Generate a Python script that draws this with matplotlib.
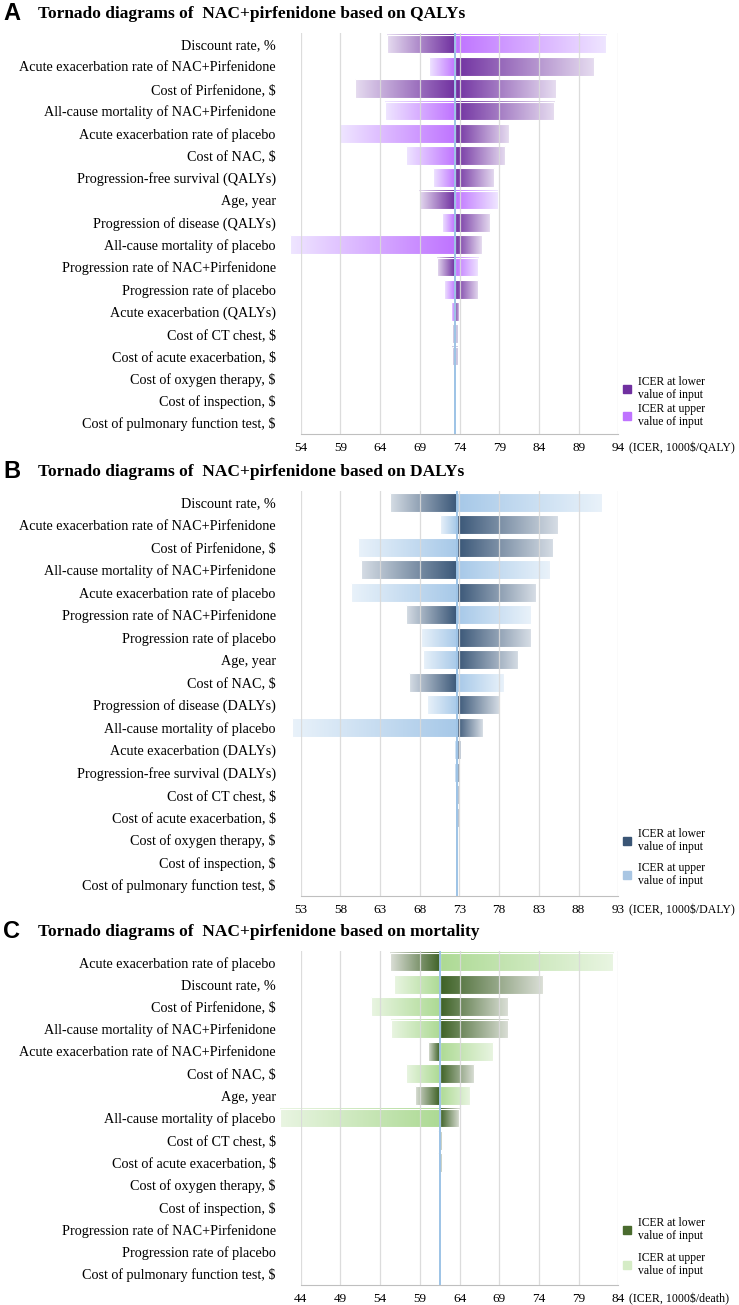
import numpy as np
import matplotlib
matplotlib.use("Agg")
import matplotlib.pyplot as plt
from matplotlib.colors import to_rgb
from matplotlib.patches import Rectangle

# ---- data ----
labels_a = ["Discount rate, %", "Acute exacerbation rate of NAC+Pirfenidone", "Cost of Pirfenidone, $",
            "All-cause mortality of NAC+Pirfenidone", "Acute exacerbation rate of placebo", "Cost of NAC, $",
            "Progression-free survival (QALYs)", "Age, year", "Progression of disease (QALYs)",
            "All-cause mortality of placebo", "Progression rate of NAC+Pirfenidone", "Progression rate of placebo",
            "Acute exacerbation (QALYs)", "Cost of CT chest, $", "Cost of acute exacerbation, $",
            "Cost of oxygen therapy, $", "Cost of inspection, $", "Cost of pulmonary function test, $"]
base_a = 73.4
low_a = [64.9, 91.0, 60.8, 85.9, 80.2, 79.7, 78.4, 68.9, 77.9, 76.8, 71.2, 76.3, 74.0, 73.1, 73.1, 73.4, 73.4, 73.4]
high_a = [92.5, 70.1, 86.1, 64.6, 58.9, 67.2, 70.6, 78.8, 71.8, 52.7, 76.3, 72.0, 72.9, 73.8, 73.8, 73.4, 73.4, 73.4]
ticks_a = [54, 59, 64, 69, 74, 79, 84, 89, 94]

labels_b = ["Discount rate, %", "Acute exacerbation rate of NAC+Pirfenidone", "Cost of Pirfenidone, $",
            "All-cause mortality of NAC+Pirfenidone", "Acute exacerbation rate of placebo",
            "Progression rate of NAC+Pirfenidone", "Progression rate of placebo", "Age, year", "Cost of NAC, $",
            "Progression of disease (DALYs)", "All-cause mortality of placebo", "Acute exacerbation (DALYs)",
            "Progression-free survival (DALYs)", "Cost of CT chest, $", "Cost of acute exacerbation, $",
            "Cost of oxygen therapy, $", "Cost of inspection, $", "Cost of pulmonary function test, $"]
base_b = 72.7
low_b = [64.2, 85.4, 84.8, 60.6, 82.6, 66.3, 82.0, 80.4, 66.6, 78.0, 75.9, 73.2, 73.05, 72.9, 72.9, 72.7, 72.7, 72.7]
high_b = [90.9, 70.6, 60.2, 84.4, 59.3, 82.0, 68.1, 68.4, 78.6, 68.9, 51.9, 72.3, 72.35, 72.4, 72.5, 72.7, 72.7, 72.7]
ticks_b = [53, 58, 63, 68, 73, 78, 83, 88, 93]

labels_c = ["Acute exacerbation rate of placebo", "Discount rate, %", "Cost of Pirfenidone, $",
            "All-cause mortality of NAC+Pirfenidone", "Acute exacerbation rate of NAC+Pirfenidone",
            "Cost of NAC, $", "Age, year", "All-cause mortality of placebo", "Cost of CT chest, $",
            "Cost of acute exacerbation, $", "Cost of oxygen therapy, $", "Cost of inspection, $",
            "Progression rate of NAC+Pirfenidone", "Progression rate of placebo",
            "Cost of pulmonary function test, $"]
base_c = 61.5
low_c = [55.2, 74.5, 70.1, 70.1, 60.0, 65.8, 58.4, 63.9, 61.3, 61.3, 61.5, 61.5, 61.5, 61.5, 61.5]
high_c = [83.3, 55.7, 52.9, 55.4, 68.2, 57.3, 65.3, 41.4, 61.8, 61.8, 61.5, 61.5, 61.5, 61.5, 61.5]
ticks_c = [44, 49, 54, 59, 64, 69, 74, 79, 84]

W, H = 739, 1305
fig = plt.figure(figsize=(W / 100, H / 100), dpi=100)
serif = "Liberation Serif"


def grad_bar(ax, y, start, end, c0, c1, h=0.84):
    if abs(end - start) < 1e-9:
        return
    t = np.linspace(0, 1, 256)[:, None]
    rgb = np.array(to_rgb(c0)) * (1 - t) + np.array(to_rgb(c1)) * t
    img = rgb[None, :, :]
    if end < start:
        img = img[:, ::-1, :]
        lo, hi = end, start
    else:
        lo, hi = start, end
    im = ax.imshow(img, extent=(lo, hi, y + h / 2, y - h / 2), aspect="auto",
                   interpolation="bilinear", zorder=2)
    im.set_clip_on(False)
    ax.add_patch(Rectangle((lo, y - h / 2), hi - lo, h, fill=False, edgecolor="white",
                           lw=0.8, zorder=2.5, clip_on=False))


def panel(top, bottom, letter, title, labels, low, high, base, ticks, unit, cols, both_dark=(), small=()):
    ax = fig.add_axes([300.7 / W, 1 - bottom / H, 317.6 / W, (bottom - top) / H])
    dark, dark_end, light, light_end = cols
    for i in range(len(labels)):
        if i in small:
            # tiny bars drawn in a flat greyish tint
            grad_bar(ax, i, low[i], high[i], small[i], small[i])
            continue
        grad_bar(ax, i, base, low[i], dark, dark_end)
        if i in both_dark:
            grad_bar(ax, i, base, high[i], dark, dark_end)
        else:
            grad_bar(ax, i, base, high[i], light, light_end)
    for t in ticks:
        ax.axvline(t, color="#d9d9d9", lw=0.9, zorder=3, alpha=0.9)
    ax.axvline(base, color="#9dc3e6", lw=1.4, zorder=4)
    ax.set_xlim(ticks[0], ticks[-1])
    ax.set_ylim(len(labels) - 0.5, -0.5)
    ax.set_yticks(range(len(labels)))
    ax.set_yticklabels(labels, fontsize=10.2, family=serif)
    ax.set_xticks(ticks)
    ax.set_xticklabels([str(t) for t in ticks], fontsize=9.5, family=serif)
    ax.tick_params(axis="y", length=0, pad=18)
    ax.tick_params(axis="x", length=0, pad=6)
    for s in ["top", "right", "left"]:
        ax.spines[s].set_visible(False)
    ax.spines["bottom"].set_color("#bfbfbf")
    ax.annotate(unit, xy=(1, 0), xycoords="axes fraction", xytext=(8, -6),
                textcoords="offset points", ha="left", va="top", fontsize=8.6, family=serif)
    ttl_y = 1 - (top - 19) / H
    fig.text(3 / W, ttl_y, letter, fontsize=17, fontweight="bold", family="Liberation Sans", va="center")
    fig.text(38 / W, ttl_y, title, fontsize=12.5, fontweight="bold", family=serif, va="center")
    return ax


def legend(y1, y2, c1, c2):
    for yy, c, txt in [(y1, c1, "ICER at lower\nvalue of input"), (y2, c2, "ICER at upper\nvalue of input")]:
        fig.add_artist(Rectangle((623 / W, 1 - (yy + 4) / H), 8 / W, 8 / H, color=c,
                                 transform=fig.transFigure))
        fig.text(638 / W, 1 - (yy - 0.5) / H, txt, fontsize=8.4, family=serif, va="center",
                 linespacing=1.05)


panel(33, 434, "A", "Tornado diagrams of  NAC+pirfenidone based on QALYs", labels_a, low_a, high_a,
      base_a, ticks_a, "(ICER, 1000$/QALY)", ("#7030A0", "#E6DCF0", "#BF73FF", "#EFE6FF"),
      both_dark=(2,), small={13: "#cdc6e0", 14: "#cdc6e0"})
legend(389, 416, "#7030A0", "#BF73FF")

panel(491, 896, "B", "Tornado diagrams of  NAC+pirfenidone based on DALYs", labels_b, low_b, high_b,
      base_b, ticks_b, "(ICER, 1000$/DALY)", ("#395677", "#D6DDE5", "#A6C8E8", "#E9F2FA"))
legend(841, 875, "#3A5575", "#A9C6E3")

panel(951, 1285, "C", "Tornado diagrams of  NAC+pirfenidone based on mortality", labels_c, low_c, high_c,
      base_c, ticks_c, "(ICER, 1000$/death)", ("#3D6125", "#DCE0D8", "#ADDA94", "#E9F5E2"),
      small={8: "#c9d0c4", 9: "#c9d0c4"})
legend(1230, 1265, "#4A6B2E", "#D5ECC6")

fig.savefig("out.png", dpi=100)
